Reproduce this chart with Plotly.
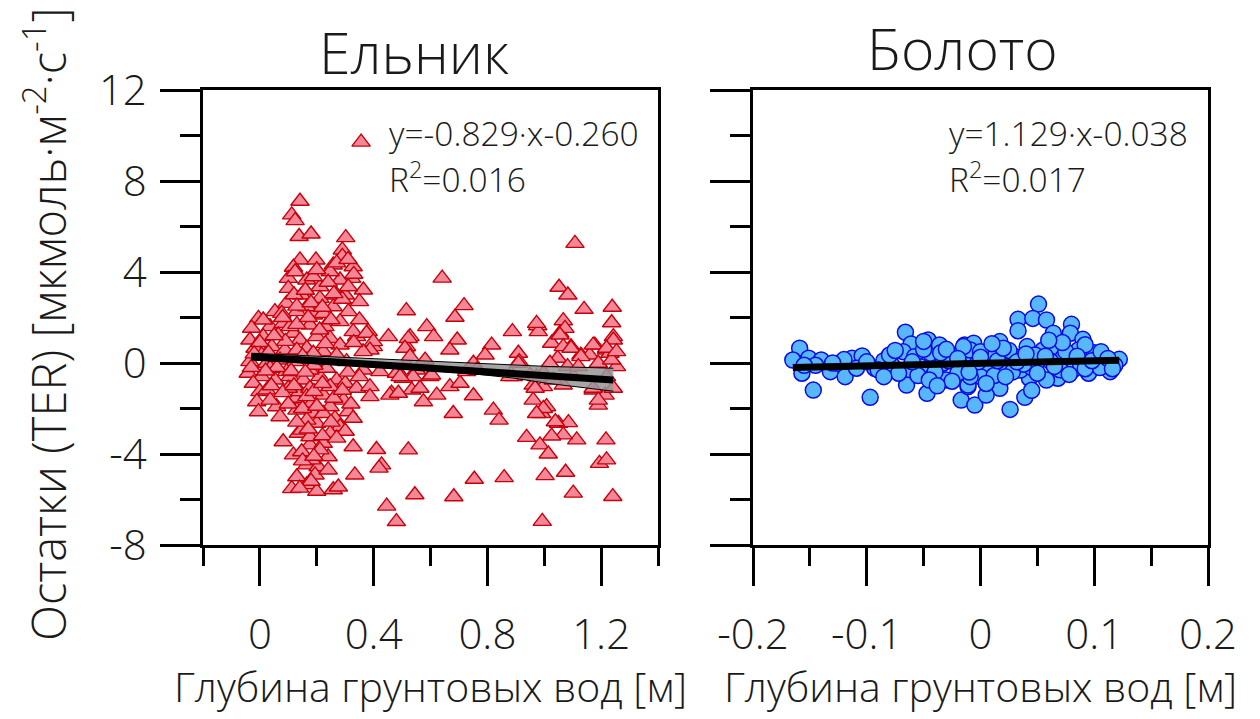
import plotly.graph_objects as go

W, H = 1260, 719

# ---------------- data: Ельник (left panel) ----------------
spruce_x = [
    0.356, 0.141, 0.112, 0.124, 0.138, 0.180, 0.302, 0.290, 0.290, 1.108,
    0.641, 1.052, 1.083, 1.140, 1.239, 1.237, 0.718, 0.515, 0.686, 0.888,
    0.977, 0.979, 1.067, 0.815, 0.792, 1.178, 1.055, 1.026, 0.909, 0.694,
    0.668, 0.452, 0.587, 0.611, 0.381, 0.340, 0.399, 0.528, 0.516, 1.243,
    1.219, 0.141, 0.118, 0.197, 0.258, 0.328, 0.323, 0.364, 0.100, 0.100,
    0.165, 0.211, 0.282, 0.300, 0.147, 0.211, 0.094, 0.053, -0.005, 0.130,
    0.188, 0.258, 0.311, -0.029, 0.036, 0.082, 0.176, 0.229, 0.282, 0.328,
    0.375, 0.399, 0.522, 0.510, -0.035, 0.012, 0.065, 0.118, 0.141, 0.200,
    0.247, 0.282, -0.017, 0.042, 0.088, 0.165, 0.223, 0.387, 0.363, -0.035,
    0.024, 0.071, 0.124, 0.200, 0.258, 0.305, 0.364, 0.422, 0.480, 0.504,
    0.551, 0.598, -0.041, 0.006, -0.023, 0.053, 0.106, 0.153, 0.211, 0.270,
    0.300, 0.340, 0.387, 0.387, 0.463, 0.534, 0.575, 0.622, 0.000, -0.011,
    -0.005, 0.059, 0.071, 0.124, 0.141, 0.182, 0.223, 0.188, 0.247, 0.294,
    0.311, 0.264, 0.328, 0.200, 0.282, 0.135, 0.082, 0.176, 0.223, 0.328,
    0.410, 0.522, 0.118, 0.147, 0.240, 0.165, 0.205, 0.428, 0.334, 0.130,
    0.194, 0.112, 0.165, 0.200, 0.258, 0.545, 0.446, 0.480, 0.682, 0.754,
    0.859, 0.993, 1.003, 1.075, 1.102, 1.241, 1.194, 1.219, 1.217, 1.114,
    0.938, 0.985, 1.014, 1.050, 1.085, 1.067, 1.026, 0.821, 0.841, 0.751,
    0.680, 0.668, 0.704, 0.961, 0.991, 1.008, 0.961, 0.997, 1.190, 1.172,
    1.214, 1.243, 0.912, 0.891, 1.094, 1.129, 1.047, 1.082, 1.160, 1.190,
    1.243, 1.231, 1.254, 1.219, 0.950, 0.997, 1.067, 1.102, 1.032, 0.727,
    0.751, 0.763, 0.604, 0.539, 0.563, 0.516, 0.493, 0.581, 0.528, 0.457,
    0.487, 0.973, 1.073, 1.055, 1.067, 1.094, 1.172, 1.129, 1.219, 1.237,
    1.254, 1.039, 0.968, 0.997, 0.973, 0.909, 0.879, 0.973, 1.172, 1.190,
    1.020, 1.120, 0.419, 0.276, 0.012, 0.077, 0.165, 0.223, 0.270, 0.188,
    0.247, 0.124, 0.311, 0.106, 0.130, 0.188, 0.006, 0.094, 0.176, 0.235,
    0.036, 0.024, 0.100, 0.176, 0.247, 0.165, 0.036, 0.130, 0.223, 0.165,
    0.147, 0.247, 0.176, 0.211, 0.182,
    0.000, 0.030, 0.060, 0.090, 0.110, 0.130, 0.150, 0.170, 0.190, 0.210,
    0.230, 0.250, 0.270, 0.290, 0.310, 0.330, 0.350, 0.120, 0.160, 0.200,
    0.240, 0.270, 0.310, 0.330, 0.350, 0.130, 0.180, 0.220, 0.260, 0.080,
    0.050, 0.020, -0.030, -0.020, 0.040, 0.080, 0.120, 0.160, 0.190, 0.220,
    0.260, 0.290, 0.320, 0.350, 0.100, 0.150, 0.200, 0.250, 0.300, 0.130,
    0.170, 0.220, 0.270, 0.150, 0.190, 0.240, 0.180, 0.140,
]
spruce_y = [
    9.71, 7.11, 6.51, 6.26, 5.56, 5.67, 5.51, 4.97, 4.69, 5.26,
    3.73, 3.33, 2.99, 2.36, 2.45, 1.77, 2.52, 2.30, 2.01, 1.38,
    1.64, 1.38, 1.86, 0.79, 0.35, 0.79, 1.31, 0.87, 0.43, 1.01,
    0.57, 1.16, 1.60, 1.16, 1.38, 1.16, 0.72, 1.16, 0.72, 1.16,
    0.57, 4.53, 4.21, 4.53, 4.31, 4.23, 3.72, 3.21, 3.72, 3.28,
    3.65, 3.35, 3.65, 2.99, 2.99, 2.84, 2.62, 2.26, 1.96, 2.26,
    2.11, 2.47, 2.26, 1.53, 1.60, 1.74, 1.67, 1.60, 1.82, 1.38,
    1.31, 0.94, 1.08, 0.65, 1.01, 1.16, 1.23, 1.31, 1.01, 1.16,
    1.08, 0.79, 0.65, 0.72, 0.57, 0.65, 0.50, 0.57, 0.50, 0.06,
    -0.01, 0.13, 0.06, 0.06, 0.13, 0.06, -0.31, -0.38, -0.45, -0.67,
    -0.31, -0.60, -0.45, -0.60, -0.89, -0.75, -0.60, -0.75, -0.60, -0.75,
    -0.89, -1.11, -1.04, -1.48, -1.33, -1.19, -1.70, -1.41, -1.26, -1.70,
    -2.14, -1.92, -2.36, -1.55, -1.26, -1.77, -1.41, -2.22, -1.92, -1.63,
    -2.14, -2.43, -2.43, -2.65, -2.80, -3.09, -3.46, -3.60, -3.53, -3.68,
    -3.80, -3.82, -4.04, -3.90, -4.12, -4.48, -4.56, -4.48, -4.92, -5.00,
    -4.92, -5.52, -5.35, -5.64, -5.57, -5.79, -6.29, -6.97, -5.88, -5.11,
    -5.04, -6.96, -4.95, -4.80, -5.72, -5.87, -4.41, -4.26, -3.38, -3.38,
    -3.27, -3.60, -4.00, -2.65, -2.62, -3.16, -3.21, -2.07, -2.51, -1.44,
    -2.22, -1.04, -0.89, -1.63, -2.22, -1.92, -0.97, -1.04, -1.85, -1.19,
    -1.41, -1.11, 0.06, -0.60, 0.72, 0.35, 0.21, -0.16, 0.35, -0.01,
    1.01, 0.43, -0.16, -0.60, -0.53, -0.45, -0.97, -0.60, -0.75, -0.38,
    -0.01, -0.31, -0.53, -0.60, -1.11, -0.09, -0.60, 0.13, 0.28, -1.41,
    -1.33, 1.74, 1.52, 1.23, 0.72, 0.65, 0.79, 0.28, 0.65, 0.13,
    0.50, -2.58, -1.11, -2.00, -2.22, -0.01, -0.60, -0.60, -1.11, -1.63,
    -0.01, -0.16, -4.62, -5.45, 1.89, 2.18, 2.47, 2.18, 2.99, 3.79,
    4.01, 4.01, 3.35, 1.60, 0.57, 0.43, 0.35, -0.38, -0.31, -0.23,
    -0.23, -1.19, -1.11, -1.11, -1.04, -1.48, -1.63, -2.07, -2.22, -2.51,
    -2.95, -3.09, -3.24, -3.82, -4.26,
    0.90, 0.45, -0.20, 0.95, -0.35, 1.70, 0.30, 2.00, -0.10, 1.45,
    0.85, 1.90, 0.35, 2.80, -0.40, 0.90, 1.90, 3.00, 3.20, 4.10,
    3.55, 4.40, 4.55, 3.90, 2.70, 2.50, 2.65, 2.45, 3.05, 2.00,
    1.20, -0.35, -0.20, 0.40, -1.00, -1.30, -1.00, -0.40, -1.25, -0.90,
    -1.55, -1.20, -1.80, -0.60, -1.80, -2.00, -1.90, -2.60, -3.00, -2.60,
    -2.90, -3.20, -3.30, -4.30, -4.10, -4.70, -5.20, -5.50,
]

# regression line and confidence band (left)
spruce_fit_x = [-0.031, 1.243]
spruce_fit_y = [0.28, -0.75]
spruce_band_x = [-0.03, 0.54, 0.77, 0.89, 1.01, 1.243]
spruce_band_hi = [0.43, 0.10, -0.02, -0.09, -0.15, -0.23]
spruce_band_lo = [0.13, -0.28, -0.50, -0.66, -0.89, -1.24]

# ---------------- data: Болото (right panel) ----------------
bog_x = [
    -0.159, -0.165, -0.151, -0.157, -0.147, -0.140, -0.132, -0.125, -0.119, -0.113,
    -0.104, -0.109, -0.093, -0.097, -0.078, -0.066, -0.061, -0.068, -0.058, -0.065,
    -0.065, -0.046, -0.044, -0.053, -0.047, -0.036, -0.033, -0.030, -0.014, -0.006,
    -0.024, -0.011, -0.017, -0.005, -0.011, -0.006, 0.051, 0.033, 0.033, 0.046,
    0.058, 0.064, 0.080, 0.079, 0.090, 0.086, 0.017, 0.041, 0.007, -0.009,
    -0.015, 0.030, 0.055, 0.067, 0.052, 0.073, 0.096, 0.108, 0.122, 0.114,
    0.102, 0.082, 0.068, 0.058, 0.043, 0.035, 0.020, 0.008, 0.017, 0.005,
    -0.011, 0.039, 0.026, 0.000, -0.009, -0.085, -0.072, -0.050, -0.040, -0.028,
    -0.020, -0.002, 0.010, 0.012, 0.025, 0.028, 0.045, 0.048, 0.062, 0.070,
    0.075, 0.088, 0.095, 0.100, 0.110, -0.145, -0.120, -0.100, -0.080, -0.055,
    -0.035, -0.025, 0.000, 0.015, 0.038, 0.092, 0.105, 0.118,
    -0.090, -0.075, -0.060, -0.045, -0.030, -0.020, -0.010, 0.000, 0.005, 0.020,
    0.022, 0.032, 0.040, 0.050, 0.057, 0.065, 0.072, 0.078, 0.085, 0.092,
    0.098, 0.106, 0.112, 0.116, -0.050, -0.038, 0.010, 0.060, -0.130, -0.155,
    -0.085, 0.045,
]
bog_y = [
    0.65, 0.13, 0.21, -0.45, -1.19, 0.13, -0.38, -0.01, -0.60, 0.21,
    0.31, -0.23, -0.23, -1.51, -0.09, 1.35, 0.84, 0.50, 0.28, -0.31,
    -0.97, 1.01, 0.43, -0.16, -1.33, 0.79, -0.01, -0.75, 0.79, 0.87,
    0.35, -0.23, -1.63, -1.85, -1.04, 0.21, 2.59, 1.92, 1.42, 1.96,
    1.89, 1.31, 1.70, 1.31, 1.04, 0.57, 0.94, 0.72, 0.43, 0.57,
    0.72, 0.28, 0.57, 0.72, 0.13, 0.28, 0.25, 0.28, 0.16, -0.38,
    -0.16, -0.28, -0.67, -0.75, -0.67, -0.31, -0.09, -0.31, -1.11, -1.41,
    -0.97, -1.51, -2.04, -0.60, -0.60, 0.10, -0.45, 0.60, -0.40, 0.10,
    -0.45, 0.05, 0.30, -0.55, 0.55, -0.40, -0.20, 0.35, 0.05, -0.30,
    0.50, -0.05, -0.45, 0.45, 0.00, -0.10, 0.15, 0.05, 0.35, -0.55,
    0.45, -0.80, 0.50, 0.10, -0.05, 0.80, -0.20, -0.10,
    -0.30, 0.55, 0.05, -0.75, 0.60, 0.20, -0.40, 0.25, -0.90, 0.65,
    -0.60, 0.05, 0.40, -0.45, 0.30, -0.15, 0.90, -0.50, 0.30, -0.25,
    0.10, 0.50, 0.20, -0.25, 0.95, -1.00, 0.85, 1.00, 0.00, -0.10,
    -0.60, -1.20,
]
bog_fit_x = [-0.165, 0.122]
bog_fit_y = [-0.20, 0.12]

# ---------------- text ----------------
title_left = "Ельник"
title_right = "Болото"
eq_left = ["y=-0.829·x-0.260", "R<sup>2</sup>=0.016"]
eq_right = ["y=1.129·x-0.038", "R<sup>2</sup>=0.017"]
x_title = "Глубина грунтовых вод [м]"
y_title = "Остатки (TER) [мкмоль·м<sup>-2</sup>·с<sup>-1</sup>]"
x1_ticks = [0, 0.4, 0.8, 1.2]
x1_minor = [-0.2, 0.2, 0.6, 1.0, 1.4]
x2_ticks = [-0.2, -0.1, 0, 0.1, 0.2]
x2_minor = [-0.15, -0.05, 0.05, 0.15]
y_ticks = [-8, -4, 0, 4, 8, 12]
y_minor = [-6, -2, 2, 6, 10]

FONT = "Open Sans"

# ---------------- geometry (pixels) ----------------
L1, R1 = 203, 658
L2, R2 = 753, 1208
TOP, BOT = 90, 545

def px(x):
    return x / W

def py(y):
    return 1 - y / H

fig = go.Figure()

# left scatter
fig.add_trace(go.Scatter(
    x=spruce_x, y=spruce_y, mode="markers", xaxis="x", yaxis="y",
    marker=dict(symbol="triangle-up", size=16, color="rgb(243,135,152)",
                line=dict(color="rgb(200,0,10)", width=1.4)),
))
# confidence band
fig.add_trace(go.Scatter(
    x=spruce_band_x, y=spruce_band_hi, mode="lines", xaxis="x", yaxis="y",
    line=dict(color="black", width=1), showlegend=False,
))
fig.add_trace(go.Scatter(
    x=spruce_band_x, y=spruce_band_lo, mode="lines", xaxis="x", yaxis="y",
    line=dict(color="black", width=1), fill="tonexty",
    fillcolor="rgba(150,150,150,0.85)", showlegend=False,
))
fig.add_trace(go.Scatter(
    x=spruce_fit_x, y=spruce_fit_y, mode="lines", xaxis="x", yaxis="y",
    line=dict(color="black", width=7),
))

# right scatter
fig.add_trace(go.Scatter(
    x=bog_x, y=bog_y, mode="markers", xaxis="x2", yaxis="y2",
    marker=dict(symbol="circle", size=16, color="rgb(88,182,250)",
                line=dict(color="rgb(10,10,230)", width=1.5)),
))
fig.add_trace(go.Scatter(
    x=bog_fit_x, y=bog_fit_y, mode="lines", xaxis="x2", yaxis="y2",
    line=dict(color="black", width=7),
))

axis_common = dict(
    showline=True, linecolor="black", linewidth=2.5, mirror=True,
    showgrid=False, zeroline=False, ticks="outside", tickcolor="black",
    tickwidth=2.5, automargin=False,
    tickfont=dict(family=FONT, size=42, color="#1a1a1a", weight=300),
)

fig.update_layout(
    template="none",
    width=W, height=H, margin=dict(l=0, r=0, t=0, b=0, pad=0),
    plot_bgcolor="white", paper_bgcolor="white", showlegend=False,
    xaxis=dict(domain=[px(L1), px(R1)], range=[-0.2, 1.4], anchor="y",
               tickvals=x1_ticks, ticktext=[f"{v:g}" for v in x1_ticks],
               ticklen=38, ticklabelstandoff=13,
               minor=dict(tickvals=x1_minor, ticklen=18, tickwidth=2.5,
                          tickcolor="black", ticks="outside"),
               **axis_common),
    yaxis=dict(domain=[py(BOT), py(TOP)], range=[-8, 12], anchor="x",
               tickvals=y_ticks, ticktext=[f"{v:g}" for v in y_ticks],
               ticklen=40, ticklabelstandoff=5,
               minor=dict(tickvals=y_minor, ticklen=20, tickwidth=2.5,
                          tickcolor="black", ticks="outside"),
               **axis_common),
    xaxis2=dict(domain=[px(L2), px(R2)], range=[-0.2, 0.2], anchor="y2",
                tickvals=x2_ticks, ticktext=[f"{v:g}" for v in x2_ticks],
                ticklen=38, ticklabelstandoff=13,
                minor=dict(tickvals=x2_minor, ticklen=18, tickwidth=2.5,
                           tickcolor="black", ticks="outside"),
                **axis_common),
    yaxis2=dict(domain=[py(BOT), py(TOP)], range=[-8, 12], anchor="x2",
                tickvals=y_ticks, showticklabels=False, ticklen=40,
                minor=dict(tickvals=y_minor, ticklen=20, tickwidth=2.5,
                           tickcolor="black", ticks="outside"),
                **axis_common),
)

def txt(text, x, y, size, xanchor="center", yanchor="middle", angle=0):
    fig.add_annotation(
        text=text, x=px(x), y=py(y), xref="paper", yref="paper",
        xanchor=xanchor, yanchor=yanchor, showarrow=False, textangle=angle,
        font=dict(family=FONT, size=size, color="#1a1a1a", weight=300),
    )

txt(title_left, 414, 52, 57)
txt(title_right, 963, 48, 57)
txt(eq_left[0], 387, 133, 33.5, xanchor="left")
txt(eq_left[1], 387, 178, 33.5, xanchor="left")
txt(eq_right[0], 947, 133, 33.5, xanchor="left")
txt(eq_right[1], 947, 178, 33.5, xanchor="left")
txt(x_title, 430, 686, 41)
txt(x_title, 980, 686, 41)
txt(y_title, 45, 325, 47, angle=-90)

fig.write_html("out.html")
